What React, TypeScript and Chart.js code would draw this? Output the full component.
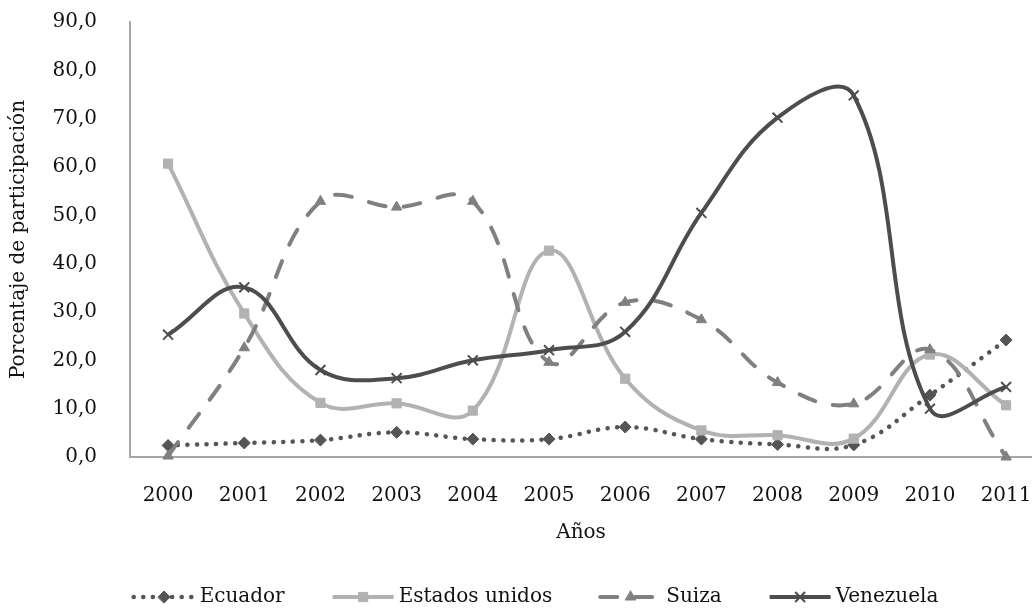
import React, { useEffect, useRef } from 'react';
import { Chart, registerables } from 'chart.js';
import { drawPoint } from 'chart.js/helpers';

Chart.register(...registerables);

const YEARS = ['2000', '2001', '2002', '2003', '2004', '2005', '2006', '2007', '2008', '2009', '2010', '2011'];
const ECUADOR = [2.4, 2.9, 3.5, 5.1, 3.7, 3.7, 6.2, 3.7, 2.6, 2.5, 12.8, 24.2];
const ESTADOS_UNIDOS = [60.7, 29.7, 11.2, 11.1, 9.6, 42.7, 16.2, 5.5, 4.5, 3.8, 21.2, 10.7];
const SUIZA = [0.2, 22.6, 52.9, 51.7, 52.9, 19.6, 32.0, 28.4, 15.4, 11.0, 22.2, 0.0];
const VENEZUELA = [25.3, 35.1, 18.0, 16.3, 20.0, 22.1, 25.9, 50.5, 70.2, 74.8, 10.0, 14.5];
const Y_MIN = 0;
const Y_MAX = 90;
const Y_STEP = 10;

const FONT = { family: '"DejaVu Serif", serif', size: 20 };
const AXIS_COLOR = '#a6a6a6';
const TEXT_COLOR = '#111111';

const legendPlugin = {
  id: 'excelLegend',
  afterDraw(chart: any) {
    const ctx = chart.ctx as CanvasRenderingContext2D;
    const symbolW = 65;
    const gapText = 3;
    const gapItem = 46;
    const y = 597;
    ctx.save();
    ctx.font = `${FONT.size}px ${FONT.family}`;
    const items = chart.data.datasets.map((ds: any) => ({ ds, w: ctx.measureText(ds.label).width }));
    const total = items.reduce((s: number, it: any) => s + symbolW + gapText + it.w, 0) + gapItem * (items.length - 1);
    let x = 535 - total / 2;
    items.forEach(({ ds, w }: any) => {
      ctx.save();
      ctx.strokeStyle = ds.borderColor;
      ctx.lineWidth = ds.borderWidth;
      ctx.lineCap = ds.borderCapStyle || 'butt';
      ctx.setLineDash(ds.borderDash || []);
      ctx.beginPath();
      ctx.moveTo(x + 2, y);
      ctx.lineTo(x + symbolW - 2, y);
      ctx.stroke();
      ctx.setLineDash([]);
      ctx.fillStyle = ds.pointBackgroundColor;
      ctx.strokeStyle = ds.pointBorderColor;
      ctx.lineWidth = ds.pointBorderWidth;
      drawPoint(ctx, { pointStyle: ds.pointStyle, radius: ds.pointRadius, rotation: 0, borderWidth: ds.pointBorderWidth } as any, x + symbolW / 2, y);
      ctx.restore();
      ctx.fillStyle = TEXT_COLOR;
      ctx.textBaseline = 'middle';
      ctx.textAlign = 'left';
      ctx.fillText(ds.label, x + symbolW + gapText, y);
      x += symbolW + gapText + w + gapItem;
    });
    ctx.restore();
  },
};

export default function App() {
  const ref = useRef<HTMLCanvasElement | null>(null);

  useEffect(() => {
    document.body.style.margin = '0';
    const canvas = ref.current;
    if (!canvas) return;
    const toXY = (arr: number[]) => arr.map((v, i) => ({ x: i, y: v }));
    const chart = new Chart(canvas, {
      type: 'line',
      data: {
        datasets: [
          {
            label: 'Ecuador',
            data: toXY(ECUADOR),
            borderColor: '#555555',
            borderWidth: 4.5,
            borderDash: [0.1, 9.5],
            borderCapStyle: 'round',
            pointStyle: 'rectRot',
            pointRadius: 6,
            pointBackgroundColor: '#555555',
            pointBorderColor: '#555555',
            pointBorderWidth: 1,
            tension: 0.4,
            order: 3,
            clip: false,
          } as any,
          {
            label: 'Estados unidos',
            data: toXY(ESTADOS_UNIDOS),
            borderColor: '#b2b2b2',
            borderWidth: 4,
            pointStyle: 'rect',
            pointRadius: 6.5,
            pointBackgroundColor: '#b2b2b2',
            pointBorderColor: '#b2b2b2',
            pointBorderWidth: 1,
            tension: 0.4,
            order: 2,
            clip: false,
          },
          {
            label: 'Suiza',
            data: toXY(SUIZA),
            borderColor: '#808080',
            borderWidth: 4,
            borderDash: [17, 18],
            borderCapStyle: 'round',
            pointStyle: 'triangle',
            pointRadius: 6,
            pointBackgroundColor: '#808080',
            pointBorderColor: '#808080',
            pointBorderWidth: 1,
            tension: 0.4,
            order: 1,
            clip: false,
          } as any,
          {
            label: 'Venezuela',
            data: toXY(VENEZUELA),
            borderColor: '#4d4d4d',
            borderWidth: 4,
            pointStyle: 'crossRot',
            pointRadius: 7,
            pointBackgroundColor: '#4d4d4d',
            pointBorderColor: '#4d4d4d',
            pointBorderWidth: 2,
            tension: 0.4,
            order: 0,
            clip: false,
          } as any,
        ],
      },
      options: {
        animation: false,
        responsive: false,
        maintainAspectRatio: false,
        layout: { autoPadding: false, padding: { top: 22, right: 0, bottom: 61, left: 0 } },
        plugins: { legend: { display: false }, tooltip: { enabled: false } },
        scales: {
          x: {
            type: 'linear',
            min: -0.5,
            max: 11.34,
            afterBuildTicks: (s: any) => {
              s.ticks = YEARS.map((_, i) => ({ value: i }));
            },
            afterFit: (s: any) => {
              s.height = 90;
              s.paddingLeft = 0;
              s.paddingRight = 0;
            },
            ticks: {
              callback: (v: any) => YEARS[v] ?? '',
              padding: 27,
              font: FONT,
              color: TEXT_COLOR,
              autoSkip: false,
              maxRotation: 0,
            },
            grid: { display: false, drawTicks: false },
            border: { display: true, color: AXIS_COLOR, width: 2 },
            title: { display: true, text: 'Años', font: FONT, color: TEXT_COLOR, padding: { top: 0, bottom: 2 } },
          },
          y: {
            min: Y_MIN,
            max: Y_MAX,
            afterFit: (s: any) => {
              s.width = 130;
              s.paddingTop = 0;
              s.paddingBottom = 0;
            },
            ticks: {
              stepSize: Y_STEP,
              callback: (v: any) => Number(v).toFixed(1).replace('.', ','),
              padding: 33,
              font: FONT,
              color: TEXT_COLOR,
            },
            grid: { display: false, drawTicks: false },
            border: { display: true, color: AXIS_COLOR, width: 2 },
            title: {
              display: true,
              text: 'Porcentaje de participación',
              font: FONT,
              color: TEXT_COLOR,
              padding: { top: 7, bottom: 0 },
            },
          },
        },
      },
      plugins: [legendPlugin],
    });
    return () => chart.destroy();
  }, []);

  return (
    <div style={{ width: 1032, height: 608 }}>
      <canvas ref={ref} width={1032} height={608} style={{ display: 'block' }} />
    </div>
  );
}
